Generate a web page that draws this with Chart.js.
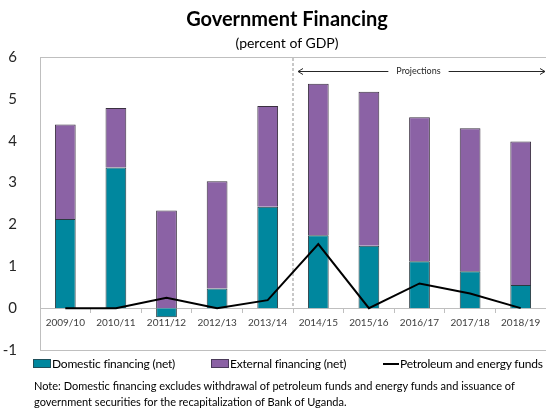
<!DOCTYPE html>
<html>
<head>
<meta charset="utf-8">
<script src="https://cdn.jsdelivr.net/npm/chart.js@4"></script>
<style>
  body { margin: 0; background: #fff; }
  #wrap { position: relative; width: 546px; height: 409px; font-family: Lato, sans-serif; color: #000; }
  #financing { position: absolute; left: 0; top: 0; }
  .title { position: absolute; left: 0; width: 574px; text-align: center; white-space: nowrap; }
  #t1 { top: 6px; font-size: 20px; font-weight: bold; }
  #t2 { top: 34px; font-size: 14px; }
  .leg { position: absolute; top: 356px; font-size: 12px; letter-spacing: -0.2px; white-space: nowrap; }
  .leg i { display: inline-block; vertical-align: middle; margin-right: 1px; margin-top: -2px; }
  .note { position: absolute; left: 34px; font-size: 11px; white-space: nowrap; }
</style>
</head>
<body>
<div id="wrap">
  <canvas id="financing" width="546" height="409"></canvas>
  <div class="title" id="t1">Government Financing</div>
  <div class="title" id="t2">(percent of GDP)</div>
  <div class="leg" style="left:33px"><i style="width:16px;height:7px;background:#00879e;border:1px solid #1f4f5a"></i>Domestic financing (net)</div>
  <div class="leg" style="left:211px"><i style="width:16px;height:7px;background:#8b62a5;border:1px solid #4a3a5a"></i>External financing (net)</div>
  <div class="leg" style="left:383px"><i style="width:16px;height:2px;background:#000"></i>Petroleum and energy funds</div>
  <div class="note" style="top:379px">Note: Domestic financing excludes withdrawal of petroleum funds and energy funds and issuance of</div>
  <div class="note" style="top:395px">government securities for the recapitalization of Bank of Uganda.</div>
</div>
<script>
const years = ['2009/10', '2010/11', '2011/12', '2012/13', '2013/14', '2014/15', '2015/16', '2016/17', '2017/18', '2018/19'];
const domestic = [2.13, 3.36, -0.22, 0.47, 2.42, 1.74, 1.49, 1.12, 0.88, 0.55];
const external = [2.26, 1.42, 2.33, 2.56, 2.41, 3.62, 3.68, 3.44, 3.42, 3.43];
const petroleum = [0, 0, 0.25, 0, 0.19, 1.53, 0, 0.59, 0.35, 0];
const yTicks = [-1, 0, 1, 2, 3, 4, 5, 6];
const firstProjection = 5; // 2014/15 onwards are projections

const axisGray = '#bfbfbf';

// box around the plot area (top, left, bottom)
const frame = {
    id: 'frame',
    beforeDatasetsDraw(chart) {
        const { ctx, chartArea } = chart;
        ctx.save();
        ctx.strokeStyle = axisGray;
        ctx.lineWidth = 1;
        ctx.beginPath();
        ctx.moveTo(chartArea.right, Math.round(chartArea.top) + 0.5);
        ctx.lineTo(Math.round(chartArea.left) + 0.5, Math.round(chartArea.top) + 0.5);
        ctx.lineTo(Math.round(chartArea.left) + 0.5, Math.round(chartArea.bottom) + 0.5);
        ctx.lineTo(chartArea.right, Math.round(chartArea.bottom) + 0.5);
        ctx.stroke();
        ctx.restore();
    }
};

// dashed divider + "Projections" arrow
const projections = {
    id: 'projections',
    beforeDatasetsDraw(chart) {
        const { ctx, chartArea, scales: { x, y } } = chart;
        const xs = Math.round((x.getPixelForValue(firstProjection - 1) + x.getPixelForValue(firstProjection)) / 2);
        ctx.save();
        ctx.strokeStyle = '#c8c8c8';
        ctx.lineWidth = 2;
        ctx.setLineDash([3, 2]);
        ctx.beginPath();
        ctx.moveTo(xs, chartArea.top + 1);
        ctx.lineTo(xs, y.getPixelForValue(0));
        ctx.stroke();

        const ay = Math.round(chartArea.top + 14) + 0.5;
        const x0 = xs + 5, x1 = chartArea.right - 1;
        const mid = (x0 + x1) / 2 - 3;
        ctx.font = '9px Lato';
        ctx.fillStyle = '#262626';
        ctx.textAlign = 'center';
        ctx.textBaseline = 'middle';
        ctx.fillText('Projections', mid, ay);
        const half = ctx.measureText('Projections').width / 2 + 8;
        ctx.setLineDash([]);
        ctx.lineWidth = 1;
        ctx.strokeStyle = '#262626';
        ctx.beginPath();
        ctx.moveTo(x0, ay); ctx.lineTo(mid - half, ay);
        ctx.moveTo(mid + half, ay); ctx.lineTo(x1, ay);
        ctx.moveTo(x0 + 5, ay - 3); ctx.lineTo(x0, ay); ctx.lineTo(x0 + 5, ay + 3);
        ctx.moveTo(x1 - 5, ay - 3); ctx.lineTo(x1, ay); ctx.lineTo(x1 - 5, ay + 3);
        ctx.stroke();
        ctx.restore();
    }
};

new Chart(document.getElementById('financing'), {
    type: 'bar',
    data: {
        labels: years,
        datasets: [
            {
                label: 'Petroleum and energy funds',
                data: petroleum,
                type: 'line',
                stack: 'line',
                borderColor: '#000',
                borderWidth: 2,
                pointRadius: 0,
                tension: 0,
                order: 0
            },
            {
                label: 'Domestic financing (net)',
                data: domestic,
                backgroundColor: '#00879e',
                borderColor: '#2a3a40',
                borderWidth: 1,
                order: 1
            },
            {
                label: 'External financing (net)',
                data: external,
                backgroundColor: '#8b62a5',
                borderColor: '#3a3040',
                borderWidth: 1,
                order: 1
            }
        ]
    },
    options: {
        responsive: false,
        animation: false,
        categoryPercentage: 1,
        barPercentage: 0.41,
        layout: {
            padding: { top: 57, bottom: 59, left: 0, right: 0 }
        },
        plugins: {
            legend: { display: false },
            tooltip: { enabled: false }
        },
        scales: {
            x: {
                stacked: true,
                position: { y: 0 },
                grid: { offset: true, drawOnChartArea: false, drawTicks: true, tickLength: 4, color: axisGray },
                border: { color: axisGray },
                ticks: { font: { family: 'Lato', size: 10 }, color: '#404040', padding: 5, maxRotation: 0, autoSkip: false }
            },
            y: {
                stacked: true,
                min: -1,
                max: 6,
                afterFit(scale) { scale.width = 40; },
                afterBuildTicks(scale) { scale.ticks = yTicks.map(v => ({ value: v })); },
                grid: { display: false },
                border: { color: axisGray },
                ticks: { font: { family: 'Lato', size: 15 }, color: '#262626', padding: 15 }
            }
        }
    },
    plugins: [frame, projections]
});
</script>
</body>
</html>
